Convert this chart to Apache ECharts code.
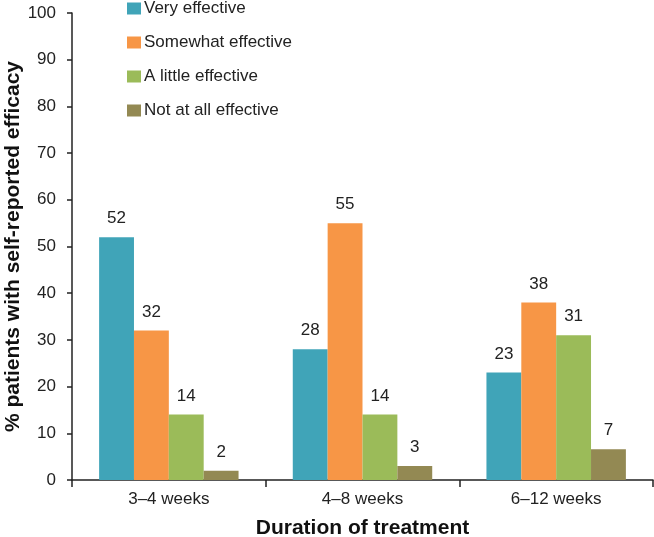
<!DOCTYPE html>
<html><head><meta charset="utf-8">
<script src="https://cdn.jsdelivr.net/npm/echarts@6/dist/echarts.min.js"></script>
<style>html,body{margin:0;padding:0;background:#fff}#c{width:654px;height:537px}</style>
</head><body><div id="c"></div>
<script>
const categories = ['3–4 weeks', '4–8 weeks', '6–12 weeks'];
const seriesNames = ['Very effective', 'Somewhat effective', 'A little effective', 'Not at all effective'];
const veryEffective = [52, 28, 23];
const somewhatEffective = [32, 55, 38];
const littleEffective = [14, 14, 31];
const notEffective = [2, 3, 6.6];
const colors = ['#40A4B8', '#F79646', '#9BBB59', '#938953'];
const yTicks = { min: 0, max: 100, interval: 10 };

const font = 'Liberation Sans, Arial, sans-serif';
const dataSets = [veryEffective, somewhatEffective, littleEffective, notEffective];
const chart = echarts.init(document.getElementById('c'), null, { renderer: 'canvas' });
chart.setOption({
  animation: false,
  textStyle: { fontFamily: font },
  legend: {
    orient: 'vertical', left: 122, top: -5, itemWidth: 14, itemHeight: 12, itemGap: 17,
    icon: 'rect',
    textStyle: { fontSize: 17, color: '#222', fontFamily: font, padding: [0, 0, 0, -2] },
    data: seriesNames
  },
  grid: { left: 72, right: 1, top: 13, bottom: 57, outerBoundsMode: 'none', containLabel: false },
  xAxis: {
    type: 'category', data: categories,
    axisLine: { lineStyle: { color: '#222', width: 1.5 } },
    axisTick: { show: true, length: 7, lineStyle: { color: '#222', width: 1.5 } },
    axisLabel: { fontSize: 17, color: '#222', margin: 11, fontFamily: font },
    name: 'Duration of treatment', nameLocation: 'middle', nameGap: 38, nameMoveOverlap: false,
    nameTextStyle: { fontSize: 21, fontWeight: 'bold', color: '#111', fontFamily: font }
  },
  yAxis: {
    type: 'value', min: yTicks.min, max: yTicks.max, interval: yTicks.interval,
    splitLine: { show: false },
    axisLine: { show: true, lineStyle: { color: '#222', width: 1.5 } },
    axisTick: { show: true, length: 5, lineStyle: { color: '#222', width: 1.5 } },
    axisLabel: { fontSize: 17, color: '#222', margin: 16, fontFamily: font },
    name: '% patients with self-reported efficacy', nameLocation: 'middle', nameGap: 48, nameMoveOverlap: false,
    nameTextStyle: { fontSize: 21, fontWeight: 'bold', color: '#111', fontFamily: font }
  },
  series: seriesNames.map((n, i) => ({
    name: n, type: 'bar', data: dataSets[i],
    barGap: '0%', barCategoryGap: '28%',
    itemStyle: { color: colors[i] },
    label: {
      show: true, position: 'top', distance: 10, fontSize: 17, color: '#222', fontFamily: font,
      formatter: p => Math.round(p.value)
    }
  }))
});
</script></body></html>
